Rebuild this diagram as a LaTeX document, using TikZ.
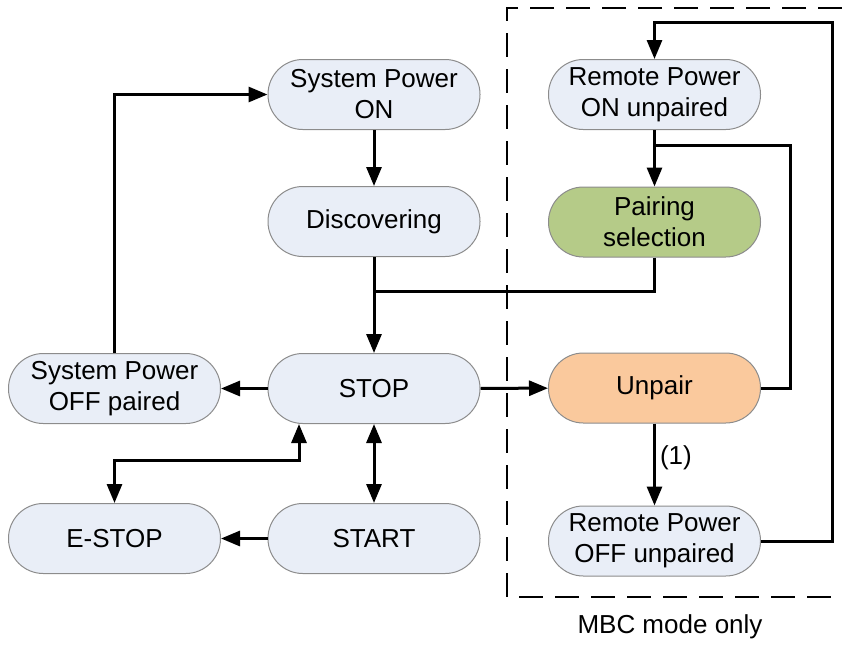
\documentclass[tikz,border=0pt]{standalone}
\usepackage{fontspec}
\setmainfont{Liberation Sans}
\usetikzlibrary{arrows.meta,calc}
\definecolor{lightfill}{HTML}{E9EEF7}
\definecolor{greenfill}{HTML}{B5CB88}
\definecolor{orangefill}{HTML}{FAC99D}
\definecolor{bordergrey}{HTML}{8C8C8C}
\tikzset{
  state/.style={rectangle, rounded corners=17.4pt, minimum width=106pt, minimum height=35pt,
    inner sep=0pt, draw=bordergrey, line width=0.5pt, fill=lightfill, align=center,
    font=\fontsize{13}{15.5}\selectfont},
  wire/.style={line width=1.5pt, black},
  arr/.style={wire, -{Triangle[length=9.5pt,width=7.5pt]}},
  arrboth/.style={wire, {Triangle[length=9.5pt,width=7.5pt]}-{Triangle[length=9.5pt,width=7.5pt]}},
  lbl/.style={font=\fontsize{13}{15.5}\selectfont, inner sep=2pt}
}
\begin{document}
\begin{tikzpicture}[x=0.5pt,y=-0.5pt]
\useasboundingbox (0,0) rectangle (842,644);
% dashed region
\draw[line width=1pt, dash pattern=on 12pt off 6pt] (842,8) -- (507,8) -- (507,597) -- (842,597);
\node[lbl] (mbc) at (670,627) {MBC mode only};
% nodes
\node[state] (son) at (374,94.5) {System Power\\ON};
\node[state] (disc) at (374,221.5) {Discovering};
\node[state] (stop) at (374,388.5) {STOP};
\node[state] (offp) at (114.5,388.5) {System Power\\OFF paired};
\node[state] (estop) at (114.5,538.5) {E-STOP};
\node[state] (start) at (374,538.5) {START};
\node[state] (ron) at (654.5,94.5) {Remote Power\\ON unpaired};
\node[state, fill=greenfill] (pair) at (654.5,222) {Pairing\\selection};
\node[state, fill=orangefill] (unpair) at (654.5,388) {Unpair};
\node[state] (roff) at (654.5,541) {Remote Power\\OFF unpaired};
% coordinates
\coordinate (j1) at (374,291);
\coordinate (k1) at (299,460);
\coordinate (j2) at (654.5,145);
\coordinate (c2) at (790,145);
\coordinate (c3) at (832,22);
% connectors
\draw[arr] (offp.north) |- (son.west);
\draw[arr] (son) -- (disc);
\draw[arr] (disc) -- (stop);
\draw[wire] (pair.south) |- (j1);
\draw[arr] (stop) -- (offp);
\draw[arr] (stop) -- (unpair);
\draw[arrboth] (stop) -- (start);
\draw[arr] (start) -- (estop);
\draw[arrboth] (estop.north) |- (k1) -- (stop.south -| k1);
\draw[arr] (ron) -- (pair);
\draw[wire] (unpair.east) -| (c2) -- (j2);
\draw[arr] (unpair) -- node[lbl, right, pos=0.42] {(1)} (roff);
\draw[arr] (roff.east) -| (c3) -| (ron.north);
\end{tikzpicture}
\end{document}
